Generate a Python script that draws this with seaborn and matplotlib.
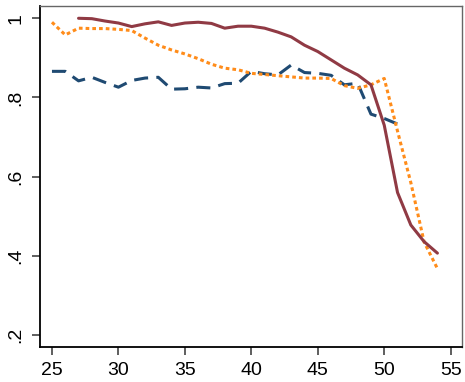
import numpy as np
import pandas as pd
import seaborn as sns
import matplotlib
matplotlib.use("Agg")
import matplotlib.pyplot as plt

# Data
x_red = list(range(27, 55))
y_red = [1.0, 0.999, 0.993, 0.988, 0.979, 0.986, 0.991, 0.982, 0.988, 0.99,
         0.987, 0.975, 0.98, 0.98, 0.975, 0.965, 0.953, 0.932, 0.916, 0.895,
         0.874, 0.857, 0.832, 0.73, 0.56, 0.478, 0.436, 0.407]

x_orange = list(range(25, 55))
y_orange = [0.99, 0.958, 0.975, 0.974, 0.974, 0.972, 0.969, 0.95, 0.932, 0.92,
            0.91, 0.898, 0.884, 0.874, 0.87, 0.861, 0.858, 0.855, 0.852, 0.849,
            0.849, 0.848, 0.83, 0.823, 0.832, 0.848, 0.715, 0.585, 0.435, 0.368]

x_blue = list(range(25, 52))
y_blue = [0.866, 0.866, 0.842, 0.851, 0.838, 0.826, 0.843, 0.849, 0.851, 0.821,
          0.822, 0.826, 0.824, 0.835, 0.836, 0.866, 0.86, 0.857, 0.882, 0.863,
          0.861, 0.856, 0.832, 0.836, 0.758, 0.747, 0.733]

x_ticks = [25, 30, 35, 40, 45, 50, 55]
y_ticks = [0.2, 0.4, 0.6, 0.8, 1.0]
y_tick_labels = [".2", ".4", ".6", ".8", "1"]

sns.set_theme(style="white")
plt.rcParams['font.family'] = ['Liberation Sans', 'DejaVu Sans']

fig = plt.figure(figsize=(4.65, 3.82), dpi=100)
ax = fig.add_axes([40/465, 1-347/382, (462-40)/465, (347-6)/382])

df_r = pd.DataFrame({"x": x_red, "y": y_red})
df_o = pd.DataFrame({"x": x_orange, "y": y_orange})
df_b = pd.DataFrame({"x": x_blue, "y": y_blue})

lw = 2.2
sns.lineplot(data=df_b, x="x", y="y", ax=ax, color="#1f4a72", linewidth=lw,
             linestyle=(0, (4.6, 2.7)))
sns.lineplot(data=df_o, x="x", y="y", ax=ax, color="#ff8c1a", linewidth=lw,
             linestyle=(0, (1.2, 1.0)))
sns.lineplot(data=df_r, x="x", y="y", ax=ax, color="#903a44", linewidth=lw,
             linestyle="-")

ax.set_xlim(24.1, 55.85)
ax.set_ylim(0.17, 1.031)
ax.set_xticks(x_ticks)
ax.set_xticklabels([str(t) for t in x_ticks])
ax.set_yticks(y_ticks)
ax.set_yticklabels(y_tick_labels, rotation=90, va="center")
ax.set_xlabel("")
ax.set_ylabel("")

for s in ["left", "bottom"]:
    ax.spines[s].set_color("black")
    ax.spines[s].set_linewidth(1.3)
for s in ["top", "right"]:
    ax.spines[s].set_color("#666666")
    ax.spines[s].set_linewidth(1.0)

ax.tick_params(axis="both", which="major", direction="out", length=6, width=1.1,
               color="#333333", labelsize=14, labelcolor="black", pad=5,
               bottom=True, left=True)

fig.savefig("out.png", dpi=100)
